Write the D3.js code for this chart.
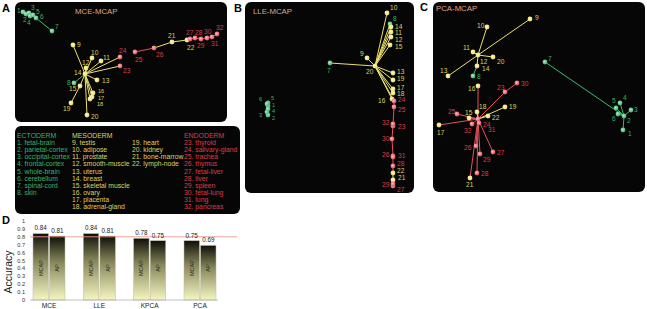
<!DOCTYPE html>
<html><head><meta charset="utf-8">
<script src="https://cdn.jsdelivr.net/npm/d3@7/dist/d3.min.js"></script>
<style>html,body{margin:0;padding:0;background:#fff;}svg{display:block;font-family:"Liberation Sans",Arial,sans-serif;}</style>
</head><body>
<script>
// ---------- DATA ----------
const ectoderm = ["fetal-brain","parietal-cortex","occipital-cortex","frontal-cortex","whole-brain","cerebellum","spinal-cord","skin"];
const mesoderm = ["testis","adipose","prostate","smooth-muscle","uterus","breast","skeletal muscle","ovary","placenta","adrenal-gland","heart","kidney","bone-marrow","lymph-node"];
const endoderm = ["thyroid","salivary-gland","trachea","thymus","fetal-liver","liver","spleen","fetal-lung","lung","pancreas"];

// embedding coordinates [tissue id, x, y]
const mceNodes = [[1,23,12],[2,26,14],[3,29,13],[4,30,16],[5,33,15],[6,36,18],[7,52,31],[8,74,83],[9,73,45],[10,92,58],[11,101,61],[12,86,68],[13,97,80],[14,85,74],[15,80,86],[16,93,93],[17,92,97],[18,90,99],[19,71,103],[20,87,115],[21,172,42],[22,187,40],[23,120,66],[24,120,57],[25,135,52],[26,154,48],[27,190,39],[28,195,38],[29,201,39],[30,207,38],[31,212,37],[32,217,34]];
const mceEdges = [[1,2],[2,3],[3,4],[4,5],[5,6],[6,7],[8,14],[14,9],[14,10],[14,11],[14,12],[14,13],[14,15],[15,19],[14,16],[14,17],[14,18],[14,20],[14,24],[14,23],[25,26],[21,26],[21,22],[27,22],[27,28],[28,29],[29,30],[30,31],[31,32]];

const lleNodes = [[1,268,106],[2,268,115],[3,267,112],[4,268,109],[5,268,103],[6,267,104],[7,330,63],[8,390,24],[9,367,58],[10,387,13],[11,391,32],[12,391,37],[13,393,73],[14,391,27],[15,390,45],[16,392,99],[17,393,89],[18,393,93],[19,393,80],[20,375,66],[21,393,180],[22,393,173],[23,393,126],[24,394,101],[25,394,107],[26,393,156],[27,393,186],[28,393,166],[29,393,184],[30,392,139],[31,393,157],[32,393,124]];
const lleEdges = [[5,6],[5,1],[1,4],[4,3],[3,2],[20,7],[20,9],[20,10],[20,8],[20,14],[20,11],[20,12],[20,15],[20,13],[20,19],[20,17],[20,18],[20,16],[20,24],[25,24],[23,25],[32,23],[30,32],[26,30],[31,26],[28,31],[28,22],[21,22],[29,21],[27,29]];

const pcaNodes = [[1,623,130],[2,624,116],[3,631,110],[4,620,103],[5,616,108],[6,618,114],[7,545,62],[8,473,76],[9,530,19],[10,487,27],[11,473,52],[12,478,55],[13,448,76],[14,477,66],[15,469,118],[16,478,86],[17,439,125],[18,477,112],[19,505,107],[20,493,57],[21,470,178],[22,488,116],[23,505,92],[24,478,119],[25,457,114],[26,476,146],[27,493,152],[28,477,173],[29,480,154],[30,517,83],[31,479,123],[32,472,124]];
const pcaEdges = [[7,2],[2,5],[2,4],[2,3],[2,6],[2,1],[8,14],[12,9],[12,13],[12,10],[12,11],[12,20],[12,14],[24,16],[24,23],[23,30],[18,24],[19,24],[24,15],[22,24],[24,25],[24,17],[24,32],[24,31],[24,26],[24,29],[24,28],[24,27],[24,21]];

const methods = ["MCE","LLE","KPCA","PCA"];
const mcapAcc = [0.84,0.84,0.78,0.75];
const apAcc   = [0.81,0.81,0.75,0.69];
const barSeries = ["MCAP","AP"];
const yTicks = [0,0.1,0.2,0.3,0.4,0.5,0.6,0.7,0.8,0.9,1];
const threshold = 0.8;

// ---------- LAYOUT ----------
const labelOff = {
 A:{1:[-6,-2],2:[-3,5],3:[2,-6],4:[-3,6],5:[3,-4],6:[4,-2],7:[3,-5],8:[-7,-1],9:[4,-1],10:[-1,-6],11:[2,-4],12:[-4,-6],13:[5,0],14:[-11,-2],15:[-11,2],16:[5,-2.5],17:[6,0.5],18:[7,5],19:[-8,5],20:[4,1],21:[-4,-7],22:[0,7],23:[3,4],24:[-1,-7],25:[0,7],26:[2,6],27:[-4,-7],28:[0,-6],29:[-4,6],30:[-3,-7],31:[-1,6],32:[-1,-7]},
 B:{1:[4,-1],2:[4,2.5],3:[-8,3],4:[4,1.5],5:[3,-5],6:[-8,-5],7:[-3,7],8:[3,-6],9:[-7,-5],10:[3,-6],11:[4,0],12:[4,2],13:[4,-2],14:[4,-1],15:[5,1],16:[-14,1],17:[4,-2],18:[4,0],19:[4,-2],20:[-9,5],21:[5,-3],22:[4,-3],23:[5,0],24:[4,-2],25:[4,2],26:[-11,-2],27:[4,3],28:[4,-3],29:[-11,0],30:[-10,-1],31:[5,-2],32:[-11,-2]},
 C:{1:[5,3],2:[3,4],3:[3,-1],4:[3,-6],5:[-4,-8],6:[-6,4],7:[3,-4],8:[4,0],9:[5,-2],10:[-10,-2],11:[-10,-5],12:[2,6],13:[-8,-6],14:[5,2],15:[-4,-6],16:[-10,2],17:[-2,7],18:[2,-6],19:[4,-1],20:[4,4],21:[-4,6],22:[4,1],23:[-8,-5],24:[5,5],25:[-9,-3],26:[-12,1],27:[4,0],28:[4,0],29:[3,5],30:[4,0],31:[9,6],32:[-8,6]}
};
const smallLabels = {B:new Set([1,2,3,4,5,6]), A:new Set([16,17,18]), C:new Set()};
const panels = [
 {key:"A", title:"MCE-MCAP", nodes:mceNodes, edges:mceEdges, box:[15,2,227,122], tx:75, ty:14, lx:2, ly:12},
 {key:"B", title:"LLE-MCAP", nodes:lleNodes, edges:lleEdges, box:[245,2,414,193], tx:253, ty:14, lx:234, ly:12},
 {key:"C", title:"PCA-MCAP", nodes:pcaNodes, edges:pcaEdges, box:[433,2,645,192], tx:436, ty:11, lx:420, ly:11}
];
const col = {g:"#3dba6e", y:"#ece06a", r:"#e8505c"};
const txtCol = {g:"#36b468", y:"#dcd262", r:"#dc3e4c"};
const grp = id => id<=8 ? "g" : (id<=22 ? "y" : "r");

const W=647,H=309;
const svg = d3.select("body").append("svg").attr("width",W).attr("height",H);
svg.append("rect").attr("width",W).attr("height",H).attr("fill","#fff");
const defs = svg.append("defs");
Object.entries(col).forEach(([k,c])=>{
  const rg = defs.append("radialGradient").attr("id","pt"+k).attr("cx","40%").attr("cy","40%").attr("r","60%");
  rg.append("stop").attr("offset","0%").attr("stop-color",d3.interpolateRgb(c,"#fff")(0.6));
  rg.append("stop").attr("offset","100%").attr("stop-color",c);
});

panels.forEach(p=>{
  const [x0,y0,x1,y1]=p.box;
  const g = svg.append("g");
  g.append("rect").attr("x",x0).attr("y",y0).attr("width",x1-x0).attr("height",y1-y0).attr("rx",6).attr("fill","#060606");
  const xs = d3.scaleLinear().domain([x0,x1]).range([x0,x1]);
  const ys = d3.scaleLinear().domain([y0,y1]).range([y0,y1]);
  const pos = new Map(p.nodes.map(d=>[d[0],d]));
  g.append("g").selectAll("line").data(p.edges).join("line")
    .attr("x1",e=>xs(pos.get(e[0])[1])).attr("y1",e=>ys(pos.get(e[0])[2]))
    .attr("x2",e=>xs(pos.get(e[1])[1])).attr("y2",e=>ys(pos.get(e[1])[2]))
    .attr("stroke",e=>col[grp(e[0])]).attr("stroke-width",1);
  g.append("g").selectAll("circle").data(p.nodes).join("circle")
    .attr("cx",d=>xs(d[1])).attr("cy",d=>ys(d[2])).attr("r",2.4)
    .attr("fill",d=>"url(#pt"+grp(d[0])+")");
  g.append("g").selectAll("text").data(p.nodes).join("text")
    .attr("x",d=>xs(d[1])+labelOff[p.key][d[0]][0]).attr("y",d=>ys(d[2])+labelOff[p.key][d[0]][1])
    .attr("dominant-baseline","central").attr("font-size",d=>smallLabels[p.key].has(d[0])?5.6:6.6).attr("fill",d=>txtCol[grp(d[0])])
    .text(d=>d[0]);
  g.append("text").attr("x",p.tx).attr("y",p.ty).attr("font-size",7.8).attr("fill","#e2a585").text(p.title);
  svg.append("text").attr("x",p.lx).attr("y",p.ly).attr("font-size",11).attr("font-weight","bold").attr("fill","#000").text(p.key);
});

// ---------- LEGEND ----------
const lg = svg.append("g");
lg.append("rect").attr("x",15).attr("y",126).attr("width",225).attr("height",88).attr("rx",6).attr("fill","#060606");
const rowY = i => 145.1 + 7.1*i;
const headers = [["ECTODERM",17,"g"],["MESODERM",72,"y"],["ENDODERM",184,"r"]];
lg.selectAll("text.h").data(headers).join("text").attr("class","h")
  .attr("x",d=>d[1]).attr("y",137.5).attr("font-size",6.9).attr("fill",d=>txtCol[d[2]]).text(d=>d[0]);
const items = [];
ectoderm.forEach((n,i)=>items.push({t:(i+1)+". "+n, x:17, row:i, g:"g"}));
mesoderm.forEach((n,i)=>items.push({t:(i+9)+". "+n, x:i<10?72:132, row:i<10?i:i-10, g:"y"}));
endoderm.forEach((n,i)=>items.push({t:(i+23)+". "+n, x:184, row:i, g:"r"}));
lg.selectAll("text.i").data(items).join("text").attr("class","i")
  .attr("x",d=>d.x).attr("y",d=>rowY(d.row)).attr("font-size",6.8).attr("fill",d=>txtCol[d.g]).text(d=>d.t);

// ---------- PANEL D ----------
svg.append("text").attr("x",2).attr("y",224).attr("font-size",11).attr("font-weight","bold").text("D");
const yD = d3.scaleLinear().domain([0,1]).range([300,221]);
const xC = d3.scalePoint().domain(methods).range([49,200]);
const xIn = d3.scaleBand().domain(barSeries).range([-16,16]).paddingInner(0.07);
const bg = defs.append("linearGradient").attr("id","barg").attr("x1",0).attr("y1",0).attr("x2",0).attr("y2",1);
bg.append("stop").attr("offset","0%").attr("stop-color","#0e0e08");
bg.append("stop").attr("offset","40%").attr("stop-color","#85855a");
bg.append("stop").attr("offset","100%").attr("stop-color","#f6f6c2");
const dG = svg.append("g");
dG.selectAll("text.yt").data(yTicks).join("text").attr("class","yt")
  .attr("x",25).attr("y",d=>yD(d)).attr("dominant-baseline","central").attr("text-anchor","end")
  .attr("font-size",5.6).attr("fill","#333").text(d=>d3.format("~g")(d));
dG.append("text").attr("transform","translate(8,272) rotate(-90)").attr("text-anchor","middle")
  .attr("dominant-baseline","central").attr("font-size",10.5).attr("fill","#222").text("Accuracy");
const bars = [];
methods.forEach((m,i)=>{ bars.push({m, s:"MCAP", v:mcapAcc[i]}); bars.push({m, s:"AP", v:apAcc[i]}); });
dG.selectAll("rect.bar").data(bars).join("rect").attr("class","bar")
  .attr("x",d=>xC(d.m)+xIn(d.s)).attr("width",xIn.bandwidth())
  .attr("y",d=>yD(d.v)).attr("height",d=>yD(0)-yD(d.v))
  .attr("fill","url(#barg)").attr("stroke","#b8b8a8").attr("stroke-width",0.5);
dG.append("line").attr("x1",30).attr("x2",218).attr("y1",yD(0)).attr("y2",yD(0)).attr("stroke","#999").attr("stroke-width",0.6);
dG.append("line").attr("x1",30).attr("x2",237).attr("y1",yD(threshold)).attr("y2",yD(threshold)).attr("stroke","#e89a88").attr("stroke-width",0.9);
dG.selectAll("text.val").data(bars).join("text").attr("class","val")
  .attr("x",d=>xC(d.m)+xIn(d.s)+xIn.bandwidth()/2).attr("y",d=>yD(d.v)-3.2)
  .attr("text-anchor","middle").attr("font-size",6.3).attr("fill","#222").text(d=>d3.format(".2f")(d.v));
dG.selectAll("text.inb").data(bars).join("text").attr("class","inb")
  .attr("transform",d=>`translate(${xC(d.m)+xIn(d.s)+xIn.bandwidth()/2},268) rotate(-90)`)
  .attr("text-anchor","middle").attr("dominant-baseline","central").attr("font-size",5.6).attr("fill","#2a2a1a").text(d=>d.s);
dG.selectAll("text.cat").data(methods).join("text").attr("class","cat")
  .attr("x",d=>xC(d)).attr("y",307.5).attr("text-anchor","middle").attr("font-size",6.6).attr("fill","#222").text(d=>d);
</script>
</body></html>
